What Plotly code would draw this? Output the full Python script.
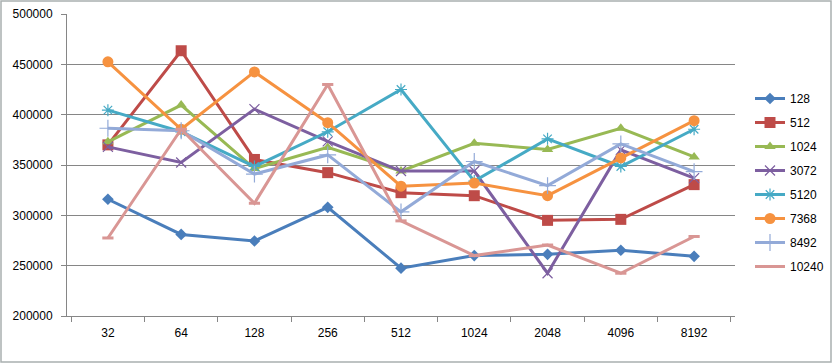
import plotly.graph_objects as go

categories = ["32", "64", "128", "256", "512", "1024", "2048", "4096", "8192"]
series_names = ["128", "512", "1024", "3072", "5120", "7368", "8492", "10240"]

s128 = [316000, 281000, 274500, 308000, 247500, 260000, 261300, 265300, 259300]
s512 = [370000, 463500, 355500, 342400, 322500, 319500, 295000, 296000, 330500]
s1024 = [373000, 409500, 346500, 367500, 344000, 371500, 365500, 386500, 358000]
s3072 = [368000, 352500, 405500, 373500, 344000, 344000, 242500, 365000, 337000]
s5120 = [404500, 383000, 348500, 383000, 425000, 334000, 376000, 348500, 385500]
s7368 = [452500, 385500, 442500, 392000, 329000, 332000, 319500, 357000, 394000]
s8492 = [386500, 384000, 341000, 360000, 303500, 353500, 329500, 371000, 343500]
s10240 = [277500, 385500, 312000, 430000, 294500, 260000, 270500, 242500, 279000]

values = [s128, s512, s1024, s3072, s5120, s7368, s8492, s10240]
colors = ["#4A7EBB", "#BE4B48", "#98B954", "#7D5FA0", "#46AAC5", "#F69240", "#93AAD8", "#D99694"]
symbols = ["diamond", "square", "triangle-up", "x-thin", "asterisk", "circle", "cross-thin", "line-ew"]
sizes = [9, 11, 10, 10, 10, 11, 12, 8]

fig = go.Figure()
for name, vals, col, sym, sz in zip(series_names, values, colors, symbols, sizes):
    open_sym = sym in ("x-thin", "asterisk", "cross-thin", "line-ew")
    fig.add_trace(go.Scatter(
        x=categories, y=vals, name=name, mode="lines+markers",
        legendgroup=name,
        line=dict(color=col, width=3),
        marker=dict(symbol=sym, size=sz, color=col,
                    line=dict(color=col, width=1.2 if open_sym else 0) if sym != "line-ew" else dict(color=col, width=3)),
    ))

W, H = 833, 364
L, R, T, B = 67, 98, 14, 48
pw, ph = W - L - R, H - T - B

fig.update_layout(
    width=W, height=H, autosize=False,
    margin=dict(l=L, r=R, t=T, b=B, autoexpand=False),
    paper_bgcolor="white", plot_bgcolor="white",
    font=dict(family="Liberation Sans", size=12, color="#000000"),
    showlegend=True,
    legend=dict(x=(750 - L) / pw, xanchor="left", y=1 - (84 - T) / ph, yanchor="top",
                tracegroupgap=5, font=dict(size=12), bgcolor="rgba(0,0,0,0)",
                itemwidth=30),
    xaxis=dict(type="category", showgrid=False, showline=True, linecolor="#868686", linewidth=1,
               ticks="outside", tickson="boundaries", ticklen=5, tickcolor="#868686",
               ticklabelstandoff=6, zeroline=False, automargin=False),
    yaxis=dict(range=[200000, 500000], dtick=50000, tickformat="d", showgrid=True,
               gridcolor="#868686", gridwidth=1,
               showline=True, linecolor="#868686", linewidth=1, ticks="outside", ticklen=5,
               tickcolor="#868686", ticklabelstandoff=6, zeroline=False, automargin=False),
    shapes=[dict(type="rect", xref="paper", yref="paper",
                 x0=(1 - L) / pw, x1=(W - 2 - L) / pw,
                 y0=1 - (H - 2 - T) / ph, y1=1 - (1 - T) / ph,
                 line=dict(color="#A9B0B0", width=1.5))],
)

fig.write_html("out.html", config={"displayModeBar": False},
               post_script="document.body.style.margin='0';document.body.style.overflow='hidden';")
